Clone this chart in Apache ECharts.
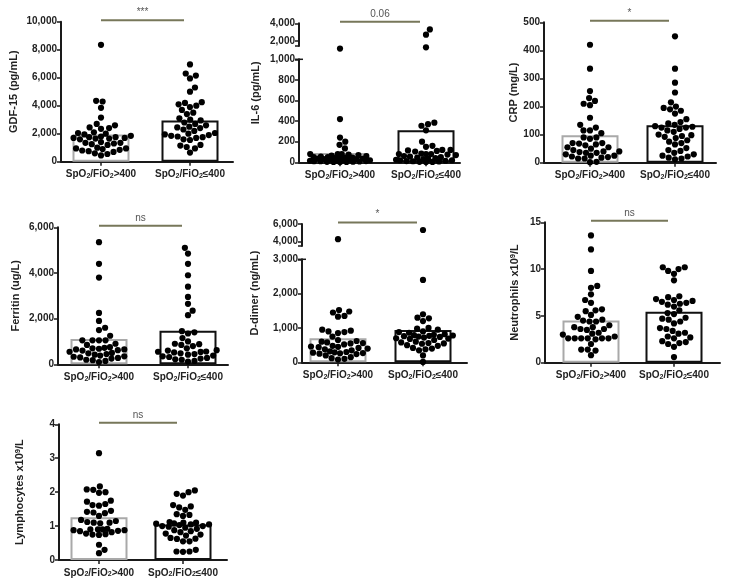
<!DOCTYPE html>
<html><head><meta charset="utf-8">
<script src="https://cdn.jsdelivr.net/npm/echarts@6/dist/echarts.min.js"></script>
<style>html,body{margin:0;padding:0;background:#fff}#c{width:729px;height:587px}</style>
</head><body><div id="c"></div>
<script>
// ---------- DATA ----------
const groupLabels = ['SpO2/FiO2>400', 'SpO2/FiO2≤400'];

const gdf15Low  = [8350,4350,4300,3850,3150,2700,2600,2450,2400,2350,2100,2050,2000,1950,1850,1800,1750,1750,1700,1700,1650,1650,1600,1400,1350,1350,1300,1250,1200,1000,950,950,900,850,800,750,700,600,550,450];
const gdf15High = [6950,6300,6150,5950,5300,5000,4250,4200,4100,4000,3900,3700,3500,3400,3100,3000,2950,2800,2700,2600,2500,2450,2400,2300,2200,2050,2000,1950,1900,1850,1800,1750,1700,1600,1550,1200,1150,1050,950,650];
const gdf15Bars = [1950, 2950];

const il6Low  = [1100,420,240,200,170,135,80,80,80,75,70,65,60,55,50,50,45,45,40,40,35,35,30,30,25,25,20,20,15,15,12,10,10,8,6,5,4,3,2];
const il6High = [3300,2700,1250,385,370,355,310,200,160,150,120,120,115,110,105,85,80,80,80,75,70,60,55,50,45,40,35,30,25,20,20,15,12,10,8,5,4,2];
const il6Bars = [90, 310];

const crpLow  = [420,335,255,230,220,210,205,160,135,125,115,115,105,90,90,85,70,70,68,65,62,55,55,50,45,40,40,38,35,35,30,25,25,22,20,18,15,15,3,2];
const crpHigh = [450,335,285,250,215,200,195,190,185,175,155,145,140,135,130,128,125,125,120,115,110,100,98,95,92,88,80,75,70,65,52,45,42,35,30,25,22,18,15,12];
const crpBars = [98, 133];

const ferritinLow  = [5350,4400,3800,2250,1900,1600,1500,1250,1050,1050,1050,1050,900,850,750,720,700,680,650,650,620,600,550,500,480,450,420,380,350,330,300,280,250,200,180,150,100];
const ferritinHigh = [5100,4850,4400,3900,3400,2950,2650,2350,2150,1450,1400,1350,1150,1000,900,880,850,800,700,620,600,560,550,540,520,480,450,420,380,350,320,280,250,220,200,150,120];
const ferritinBars = [1110, 1470];

const ddimerLow  = [4270,1520,1480,1450,1350,1330,950,920,900,880,850,750,650,620,600,580,560,550,520,480,460,450,440,420,400,380,350,320,300,290,280,270,260,250,240,200,150,120,100,80];
const ddimerHigh = [5320,2400,1400,1300,1280,1200,1000,980,950,900,880,860,820,800,790,780,770,760,750,740,720,700,690,680,650,600,580,560,550,540,500,480,420,400,380,350,200,10];
const ddimerBars = [700, 940];

const neutLow  = [13.6,12.1,9.8,8.2,8.0,7.3,6.7,6.4,5.7,5.6,5.5,5.1,4.9,4.6,4.5,4.4,4.4,4.0,3.8,3.8,3.6,3.6,3.5,3.2,3.1,3.0,2.8,2.6,2.6,2.6,2.6,2.6,2.6,2.5,2.0,1.4,1.4,1.3,0.8];
const neutHigh = [10.2,10.2,10.0,9.8,9.5,8.8,7.1,7.0,6.8,6.7,6.6,6.5,6.4,6.3,6.2,6.0,5.6,5.3,5.2,4.8,4.7,4.6,4.4,4.2,3.7,3.6,3.4,3.2,3.1,2.8,2.7,2.6,2.3,2.2,2.1,2.0,1.7,0.6];
const neutBars = [4.5, 5.45];

const lymphLow  = [3.15,2.17,2.08,2.07,2.0,1.98,1.75,1.72,1.65,1.62,1.6,1.45,1.42,1.4,1.38,1.3,1.18,1.15,1.12,1.1,1.1,1.08,0.92,0.9,0.9,0.9,0.88,0.88,0.86,0.85,0.82,0.78,0.76,0.75,0.74,0.45,0.3,0.2];
const lymphHigh = [2.05,2.0,1.95,1.9,1.62,1.58,1.55,1.48,1.35,1.33,1.3,1.12,1.1,1.1,1.08,1.07,1.05,1.05,1.03,1.0,1.0,0.98,0.95,0.92,0.88,0.85,0.82,0.78,0.75,0.72,0.65,0.63,0.62,0.55,0.55,0.3,0.25,0.25,0.24];
const lymphBars = [1.26, 1.05];

const sigLabels = ['***', '0.06', '*', 'ns', '*', 'ns', 'ns'];
const yTitles = ['GDF-15 (pg/mL)', 'IL-6 (pg/mL)', 'CRP (mg/L)', 'Ferritin (ug/L)', 'D-dimer (ng/mL)',
  '{n|Neutrophils x10}{p|9}{n|/L}', '{n|Lymphocytes x10}{p|9}{n|/L}'];

// ---------- LAYOUT ----------
const FONT = 'Liberation Sans';
const panels = [
  {ax:61,  right:233, top:21.7,  bottom:161.7, c:[101,190], min:0, max:10000, iv:2000, gap:42, low:gdf15Low, high:gdf15High, bars:gdf15Bars},
  {ax:299, right:460, top:59.3,  bottom:162.3, c:[340,426], min:0, max:1000,  iv:200,  gap:38, low:il6Low, high:il6High, bars:il6Bars,
     up:{top:23.3, bottom:46, min:1400, max:4000, labels:[2000,4000]}},
  {ax:544, right:716, top:22.3,  bottom:162.7, c:[590,675], min:0, max:500,   iv:100,  gap:24, low:crpLow, high:crpHigh, bars:crpBars},
  {ax:58,  right:228, top:227.3, bottom:364.3, c:[99,188],  min:0, max:6000,  iv:2000, gap:37, low:ferritinLow, high:ferritinHigh, bars:ferritinBars},
  {ax:302, right:467, top:259.3, bottom:362.3, c:[338,423], min:0, max:3000,  iv:1000, gap:42, low:ddimerLow, high:ddimerHigh, bars:ddimerBars,
     up:{top:224, bottom:246, min:3500, max:6000, labels:[4000,6000]}},
  {ax:545, right:720, top:222.3, bottom:362.7, c:[591,674], min:0, max:15,    iv:5,    gap:22, low:neutLow, high:neutHigh, bars:neutBars},
  {ax:59,  right:227, top:424.3, bottom:560,   c:[99,183],  min:0, max:4,     iv:1,    gap:31, low:lymphLow, high:lymphHigh, bars:lymphBars}
];

const DOT = 6.2;
function swarm(ys) {
  const order = ys.map((y,i)=>i).sort((a,b)=>ys[b]-ys[a]);
  const placed = [], xs = new Array(ys.length);
  let flip = 1;
  for (const i of order) {
    const y = ys[i];
    let D = DOT + 0.3, best = null;
    while (true) {
      const near = placed.filter(p => Math.abs(p.y - y) < D);
      const cands = [0];
      near.forEach(p => { const dx = Math.sqrt(D*D - (p.y-y)*(p.y-y)); cands.push(p.x - dx - 0.01, p.x + dx + 0.01); });
      cands.sort((a,b)=> (Math.abs(a)-Math.abs(b)) || (flip*(a-b)));
      for (const c of cands) {
        if (near.every(p => (p.x-c)*(p.x-c) + (p.y-y)*(p.y-y) >= D*D - 1e-6)) { best = c; break; }
      }
      if (Math.abs(best) <= 30 || D < 2.5) break;
      D *= 0.85;
    }
    flip = -flip;
    placed.push({x:best, y}); xs[i] = best;
  }
  return xs;
}

const AX = '#1a1a1a';
const axisLine = {show:true, lineStyle:{color:AX, width:2}};
const tickLab = {fontFamily:FONT, fontSize:10, fontWeight:'bold', color:'#222', margin:4,
  formatter: v => Number(v).toLocaleString('en-US')};
const rich = {
  t:{fontFamily:FONT, fontSize:10, fontWeight:'bold', color:'#222', lineHeight:12, verticalAlign:'bottom'},
  s:{fontFamily:FONT, fontSize:7, fontWeight:'bold', color:'#222', lineHeight:8, verticalAlign:'bottom'},
  n:{fontFamily:FONT, fontSize:11, fontWeight:'bold', color:'#222', lineHeight:14, verticalAlign:'top'},
  p:{fontFamily:FONT, fontSize:7.5, fontWeight:'bold', color:'#222', lineHeight:8, verticalAlign:'top'}
};
function catLabel(i) {
  const s = groupLabels[i];
  const parts = s.split('2');
  return '{t|' + parts[0] + '}{s|2}{t|' + parts[1] + '}{s|2}{t|' + parts.slice(2).join('2') + '}';
}

const grid = [], xAxis = [], yAxis = [], series = [];
panels.forEach((p, k) => {
  const W = p.right - p.ax;
  const cx = [p.c[0] - p.ax, p.c[1] - p.ax];
  const gi = grid.length;
  grid.push({left:p.ax, top:p.top, width:W, height:p.bottom - p.top});
  xAxis.push({gridIndex:gi, type:'value', min:0, max:W, splitLine:{show:false}, axisLine,
    axisTick:{show:true, length:4, customValues:cx, lineStyle:{color:AX, width:1.5}},
    axisLabel:{customValues:cx, margin:6, rich, formatter: v => catLabel(Math.abs(v-cx[0]) < 1 ? 0 : 1)}});
  yAxis.push({gridIndex:gi, type:'value', min:p.min, max:p.max, interval:p.iv, splitLine:{show:false}, axisLine,
    axisTick:{show:true, length:4, lineStyle:{color:AX, width:1.5}}, axisLabel:tickLab,
    name: p.up ? '' : yTitles[k], nameLocation:'middle', nameGap:p.gap,
    nameTextStyle:{fontFamily:FONT, fontSize:11, fontWeight:'bold', color:'#222', rich}});
  let ui = null;
  if (p.up) {
    ui = grid.length;
    grid.push({left:p.ax, top:p.up.top, width:W, height:p.up.bottom - p.up.top});
    xAxis.push({gridIndex:ui, type:'value', min:0, max:W, show:false});
    yAxis.push({gridIndex:ui, type:'value', min:p.up.min, max:p.up.max, splitLine:{show:false}, axisLine,
      axisTick:{show:true, length:4, customValues:[p.up.min].concat(p.up.labels), lineStyle:{color:AX, width:1.5}},
      axisLabel:Object.assign({}, tickLab, {customValues:p.up.labels})});
    const ni = grid.length;
    grid.push({left:p.ax, top:p.up.top, width:W, height:p.bottom - p.up.top});
    xAxis.push({gridIndex:ni, type:'value', show:false});
    yAxis.push({gridIndex:ni, type:'value', axisLine:{show:false}, axisTick:{show:false}, axisLabel:{show:false}, splitLine:{show:false},
      name:yTitles[k], nameLocation:'middle', nameGap:p.gap,
      nameTextStyle:{fontFamily:FONT, fontSize:11, fontWeight:'bold', color:'#222'}});
    // "T" cap at the top of the lower axis segment (axis break mark)
    series.push({type:'custom', xAxisIndex:gi, yAxisIndex:gi, clip:false, silent:true, z:5, data:[[0, p.max]],
      renderItem:(params, api) => {
        const a = api.coord([api.value(0), api.value(1)]);
        return {type:'line', shape:{x1:a[0]-4, y1:a[1], x2:a[0]+4, y2:a[1]}, style:{stroke:AX, lineWidth:1.5}};
      }});
  }
  // bars
  series.push({type:'bar', xAxisIndex:gi, yAxisIndex:gi, barWidth:57, silent:true, z:1,
    data:[{value:[cx[0], p.bars[0]], itemStyle:{color:'#fff', borderColor:'#a9a9a9', borderWidth:2}},
          {value:[cx[1], p.bars[1]], itemStyle:{color:'#fff', borderColor:'#111', borderWidth:2}}]});
  // dots
  const toPx = v => {
    if (p.up && v > p.max) return p.up.top + (p.up.max - v) / (p.up.max - p.up.min) * (p.up.bottom - p.up.top);
    return p.bottom - (v - p.min) / (p.max - p.min) * (p.bottom - p.top);
  };
  [p.low, p.high].forEach((vals, g) => {
    const xs = swarm(vals.map(toPx));
    const lo = [], hi = [];
    vals.forEach((v, i) => { (p.up && v > p.max ? hi : lo).push([cx[g] + xs[i], v]); });
    series.push({type:'scatter', xAxisIndex:gi, yAxisIndex:gi, symbolSize:DOT, clip:false, silent:true, z:3,
      itemStyle:{color:'#000', opacity:1}, data:lo});
    if (hi.length) series.push({type:'scatter', xAxisIndex:ui, yAxisIndex:ui, symbolSize:DOT, clip:false, silent:true, z:3,
      itemStyle:{color:'#000', opacity:1}, data:hi});
  });
  // significance bar
  const ti = p.up ? ui : gi;
  const ymax = p.up ? p.up.max : p.max;
  series.push({type:'custom', xAxisIndex:ti, yAxisIndex:ti, clip:false, silent:true, z:5,
    data:[[cx[0], cx[1], ymax]],
    renderItem:(params, api) => {
      const a = api.coord([api.value(0), api.value(2)]);
      const b = api.coord([api.value(1), api.value(2)]);
      const y = a[1] - 1.5;
      return {type:'group', children:[
        {type:'line', shape:{x1:a[0], y1:y, x2:b[0]-6, y2:y}, style:{stroke:'#77775a', lineWidth:2}},
        {type:'text', style:{text:sigLabels[k], x:(a[0]+b[0]-6)/2, y:y-3, align:'center', verticalAlign:'bottom',
          fill:'#555', fontSize:10, fontFamily:FONT}}
      ]};
    }});
});

const chart = echarts.init(document.getElementById('c'), null, {renderer:'canvas'});
chart.setOption({animation:false, backgroundColor:'#fff', textStyle:{fontFamily:FONT}, grid, xAxis, yAxis, series});
</script></body></html>
